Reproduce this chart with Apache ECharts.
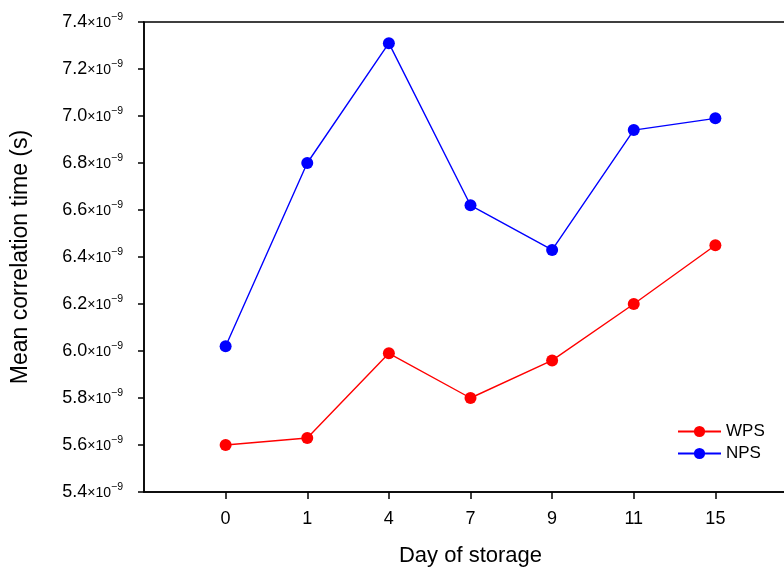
<!DOCTYPE html>
<html>
<head>
<meta charset="utf-8">
<script src="https://cdn.jsdelivr.net/npm/echarts@6/dist/echarts.min.js"></script>
<style>html,body{margin:0;padding:0;background:#fff}#c{width:784px;height:569px}</style>
</head>
<body>
<div id="c"></div>
<script>
// Values in units of 1e-9 s
const days = ['0', '1', '4', '7', '9', '11', '15'];
const wps = [5.60, 5.63, 5.99, 5.80, 5.96, 6.20, 6.45];
const nps = [6.02, 6.80, 7.31, 6.62, 6.43, 6.94, 6.99];
const yTicks = [5.4, 5.6, 5.8, 6.0, 6.2, 6.4, 6.6, 6.8, 7.0, 7.2, 7.4];

const axisCats = [' '].concat(days, ['  ']);
const font = 'Liberation Sans, Arial, sans-serif';
const chart = echarts.init(document.getElementById('c'));
chart.setOption({
  animation: false,
  grid: {left: 144, top: 22, width: 653, height: 470, show: true, borderColor: '#000', borderWidth: 1.5,
         backgroundColor: 'transparent', outerBoundsMode: 'none', containLabel: false},
  legend: {
    left: 672, top: 418, orient: 'vertical', itemWidth: 43, itemHeight: 14, itemGap: 5,
    textStyle: {fontFamily: font, fontSize: 17, color: '#000'},
    data: ['WPS', 'NPS']
  },
  xAxis: {
    type: 'category', data: axisCats, boundaryGap: false,
    name: 'Day of storage', nameLocation: 'middle', nameGap: 53,
    nameTextStyle: {fontFamily: font, fontSize: 22, color: '#000'},
    axisLine: {lineStyle: {color: '#000', width: 1.5}},
    axisTick: {length: 7, lineStyle: {color: '#000', width: 1.5}, interval: (i, v) => v.trim() !== ''},
    axisLabel: {interval: 0, margin: 18, fontFamily: font, fontSize: 18, color: '#000'},
    splitLine: {show: false}
  },
  yAxis: {
    type: 'value', min: 5.4, max: 7.4, interval: 0.2,
    name: 'Mean correlation time (s)', nameLocation: 'middle', nameGap: 112,
    nameTextStyle: {fontFamily: font, fontSize: 23, color: '#000'},
    axisLine: {show: true, lineStyle: {color: '#000', width: 1.5}},
    axisTick: {show: true, length: 6, lineStyle: {color: '#000', width: 1.5}},
    splitLine: {show: false},
    axisLabel: {
      margin: 21,
      formatter: v => '{a|' + v.toFixed(1) + '}{b|×10}{c|−9}',
      rich: {
        a: {fontFamily: font, fontSize: 18, color: '#000'},
        b: {fontFamily: font, fontSize: 14, color: '#000', padding: [2, 0, 0, 0]},
        c: {fontFamily: font, fontSize: 10.5, color: '#000', padding: [0, 0, 9, 0]}
      }
    }
  },
  series: [
    {name: 'WPS', type: 'line', data: days.map((d, i) => [d, wps[i]]), symbol: 'circle', symbolSize: 12,
     itemStyle: {color: '#ff0000'}, lineStyle: {color: '#ff0000', width: 1.4}},
    {name: 'NPS', type: 'line', data: days.map((d, i) => [d, nps[i]]), symbol: 'circle', symbolSize: 12,
     itemStyle: {color: '#0000ff'}, lineStyle: {color: '#0000ff', width: 1.4}}
  ]
});
</script>
</body>
</html>
